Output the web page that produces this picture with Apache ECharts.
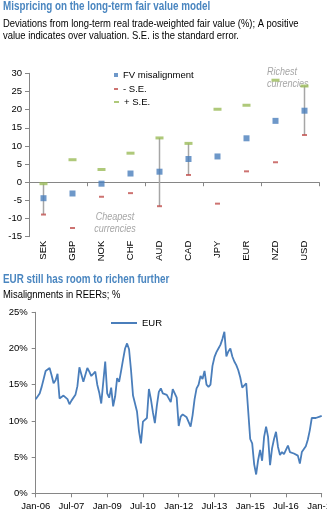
<!DOCTYPE html>
<html><head><meta charset="utf-8">
<script src="https://cdn.jsdelivr.net/npm/echarts@6/dist/echarts.min.js"></script>
<style>html,body{margin:0;padding:0;background:#fff}#c{width:327px;height:517px}</style>
</head><body><div id="c"></div>
<script>
// ---- Top chart data ----
const currencies = ['SEK','GBP','NOK','CHF','AUD','CAD','JPY','EUR','NZD','USD'];
const fvMisalignment = [-4.4,-3.1,-0.4,2.4,2.9,6.4,7.1,12.1,16.9,19.7];
const minusSE = [-8.9,-12.6,-4.0,-3.0,-6.6,2.0,-5.9,3.0,5.5,13.0];
const plusSE = [-0.4,6.2,3.5,8.0,12.2,10.7,20.1,21.2,28.1,26.5];
const errLow = [-8.9,null,null,null,-6.6,2.0,null,null,null,13.0];
const errHigh = [-0.4,null,null,null,12.2,10.7,null,null,null,26.5];

// ---- Bottom chart data ----
const startYear = 2006, monthCount = 145;
const monthNames = ['Jan','Feb','Mar','Apr','May','Jun','Jul','Aug','Sep','Oct','Nov','Dec'];
const eurMisalignment = [
13.0,12.9,13.8,14.7,15.8,16.9,17.1,17.3,16.3,15.2,15.6,16.5,
13.1,13.3,13.5,13.4,13.0,12.3,12.8,13.0,13.6,14.8,17.4,17.2,
15.4,15.3,17.3,16.8,16.2,16.3,16.8,15.0,13.9,12.4,12.3,18.2,
13.8,13.2,14.6,12.0,13.4,15.9,15.4,16.9,18.5,20.0,20.7,19.9,
17.0,13.5,12.4,11.3,8.6,6.9,9.9,9.9,10.4,14.4,13.0,11.2,
9.7,12.1,14.0,14.5,13.8,14.0,13.6,13.4,12.6,14.4,14.5,13.2,
9.3,10.6,10.9,11.0,10.5,10.6,9.2,10.8,13.0,14.5,15.0,16.2,
15.8,16.9,15.0,14.7,15.0,17.6,18.8,19.5,20.0,20.5,21.3,22.3,
18.9,19.6,20.0,18.9,18.2,17.7,17.0,16.0,14.6,14.6,15.2,15.3,
7.5,6.9,4.0,2.6,4.6,6.0,4.5,7.8,9.2,7.8,3.9,6.2,
7.5,8.5,6.4,5.3,5.7,5.4,6.0,6.6,5.7,5.5,5.5,5.4,
5.2,4.1,5.7,5.9,6.5,7.4,8.7,10.4,10.4,10.4,10.5,10.6,
10.7];
const months = [];
for (let i = 0; i < monthCount; i++) {
  const y = startYear + Math.floor(i / 12);
  months.push(monthNames[i % 12] + '-' + String(y).slice(2));
}

const FONT = '"Liberation Sans",Arial,sans-serif';
const AX = '#868686';
const NARROW = 0.82;
const chart = echarts.init(document.getElementById('c'), null, {renderer:'canvas'});

const errData = [];
currencies.forEach((c, i) => { if (errLow[i] != null) errData.push([i, errLow[i], errHigh[i]]); });

function narrowText(x, y, text, font, fill, lineHeight) {
  return {type: 'text', x: x, y: y, scaleX: NARROW, scaleY: 1, silent: true,
          style: {text: text, font: font, fill: fill, lineHeight: lineHeight, verticalAlign: 'top', align: 'left'}};
}
const legendText = {fontFamily: FONT, fontSize: 9.5, color: '#000', lineHeight: 12};

chart.setOption({
  animation: false,
  textStyle: {fontFamily: FONT},
  legend: [
    {data: [{name: 'FV misalignment', icon: 'rect'}], left: 114, top: 69, padding: 0, itemWidth: 4, itemHeight: 4,
     textStyle: legendText, selectedMode: false},
    {data: [{name: '- S.E.', icon: 'rect'}], left: 114, top: 83, padding: 0, itemWidth: 4, itemHeight: 2,
     textStyle: legendText, selectedMode: false},
    {data: [{name: '+ S.E.', icon: 'rect'}], left: 114, top: 96, padding: 0, itemWidth: 5, itemHeight: 2,
     textStyle: legendText, selectedMode: false},
    {data: [{name: 'EUR', icon: 'rect'}], left: 111, top: 317, padding: 0, itemWidth: 26, itemHeight: 2,
     textStyle: legendText, selectedMode: false}
  ],
  grid: [
    {left: 29, top: 73.3, width: 290, height: 163.4, outerBoundsMode: 'none', containLabel: false},
    {left: 35.7, top: 312.3, width: 286, height: 181, outerBoundsMode: 'none', containLabel: false}
  ],
  xAxis: [
    {type: 'category', gridIndex: 0, data: currencies, position: 'bottom',
     axisLine: {show: false, onZero: false}, axisTick: {show: false},
     axisLabel: {rotate: 90, margin: 4, fontSize: 9.5, color: '#000', fontFamily: FONT}},
    {type: 'category', gridIndex: 0, data: currencies, position: 'bottom',
     axisLine: {show: true, onZero: true, lineStyle: {color: AX, width: 1}},
     axisTick: {show: true, length: 4, inside: false, lineStyle: {color: AX}},
     axisLabel: {show: false}},
    {type: 'category', gridIndex: 1, data: months, boundaryGap: false,
     axisLine: {lineStyle: {color: AX, width: 1}},
     axisTick: {show: true, length: 4, interval: 17, lineStyle: {color: AX}},
     axisLabel: {interval: 17, margin: 8, fontSize: 9.5, color: '#000', fontFamily: FONT}}
  ],
  yAxis: [
    {type: 'value', gridIndex: 0, min: -15, max: 30, interval: 5,
     axisLine: {show: true, lineStyle: {color: AX}},
     axisTick: {show: true, length: 4, lineStyle: {color: AX}},
     splitLine: {show: false},
     axisLabel: {margin: 7, fontSize: 9.5, color: '#000', fontFamily: FONT}},
    {type: 'value', gridIndex: 1, min: 0, max: 25, interval: 5,
     axisLine: {show: true, lineStyle: {color: AX}},
     axisTick: {show: true, length: 4, lineStyle: {color: AX}},
     splitLine: {show: false},
     axisLabel: {margin: 8, fontSize: 9.5, color: '#000', fontFamily: FONT, formatter: '{value}%'}}
  ],
  graphic: [
    narrowText(3, 0, 'Mispricing on the long-term fair value model', 'bold 12px ' + FONT, '#4a86c0', 14),
    narrowText(3, 18, 'Deviations from long-term real trade-weighted fair value (%); A positive\nvalue indicates over valuation. S.E. is the standard error.', '11.5px ' + FONT, '#000', 12),
    narrowText(3, 273, 'EUR still has room to richen further', 'bold 12px ' + FONT, '#4a86c0', 14),
    narrowText(3, 289, 'Misalignments in REERs; %', '11.5px ' + FONT, '#000', 12),
    {type: 'text', x: 115, y: 211, scaleX: NARROW, silent: true,
     style: {text: 'Cheapest\ncurrencies', fill: '#a6a6a6', font: 'italic 11px ' + FONT, lineHeight: 12, align: 'center', verticalAlign: 'top'}},
    narrowText(267, 66, 'Richest\ncurrencies', 'italic 11px ' + FONT, '#a6a6a6', 12)
  ],
  series: [
    {name: 'err', type: 'custom', xAxisIndex: 0, yAxisIndex: 0, z: 1,
     data: errData,
     encode: {x: 0, y: [1, 2]},
     renderItem: function (params, api) {
       const p1 = api.coord([api.value(0), api.value(1)]);
       const p2 = api.coord([api.value(0), api.value(2)]);
       return {type: 'line', shape: {x1: p1[0], y1: p1[1], x2: p2[0], y2: p2[1]},
               style: {stroke: '#a6a6a6', lineWidth: 1.5}};
     }},
    {name: 'FV misalignment', type: 'scatter', xAxisIndex: 0, yAxisIndex: 0, z: 3,
     symbol: 'rect', symbolSize: 6, itemStyle: {color: '#4a7ebb'}, data: fvMisalignment},
    {name: '- S.E.', type: 'scatter', xAxisIndex: 0, yAxisIndex: 0, z: 3,
     symbol: 'rect', symbolSize: [5, 2], itemStyle: {color: '#c0504d'}, data: minusSE},
    {name: '+ S.E.', type: 'scatter', xAxisIndex: 0, yAxisIndex: 0, z: 3,
     symbol: 'rect', symbolSize: [8, 3], itemStyle: {color: '#9bbb59'}, data: plusSE},
    {name: 'EUR', type: 'line', xAxisIndex: 2, yAxisIndex: 1, showSymbol: false, symbol: 'none',
     lineStyle: {color: '#4a7ebb', width: 1.8}, itemStyle: {color: '#4a7ebb'}, data: eurMisalignment}
  ]
});
</script>
</body></html>
